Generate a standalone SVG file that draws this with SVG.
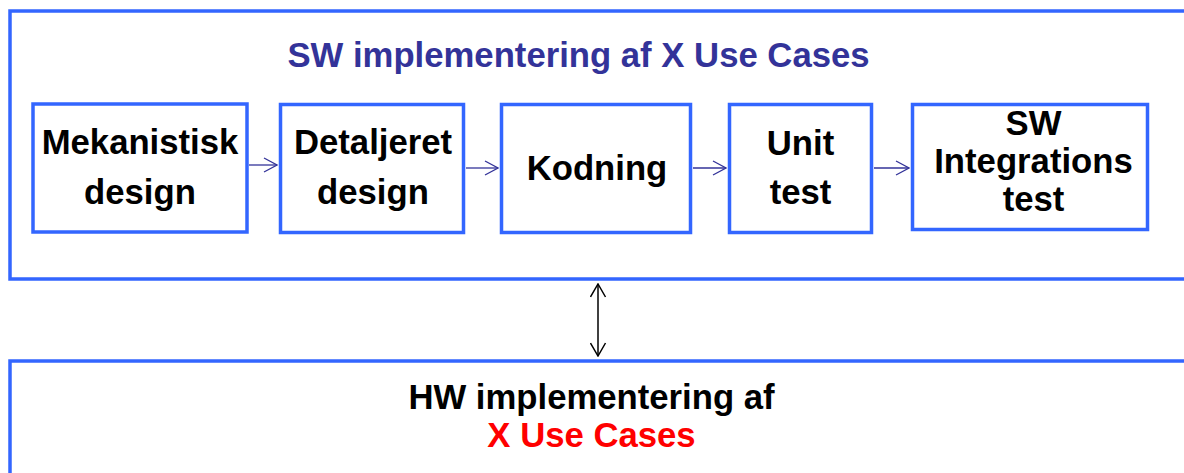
<svg xmlns="http://www.w3.org/2000/svg" width="1184" height="473" viewBox="0 0 1184 473">
<style>
.frame{fill:none;stroke:#3366FF;stroke-width:3.5}
.box{fill:#fff;stroke:#3366FF;stroke-width:3.5}
.t{font-family:"Liberation Sans",Arial,sans-serif;font-weight:bold;font-size:34.7px;text-anchor:middle;fill:#000}
.flow{stroke:#333399;stroke-width:1.3;fill:none}
.dbl{stroke:#000;stroke-width:1.5;fill:none}
</style>
<defs>
<marker id="ah" viewBox="0 0 15 16" refX="14" refY="8" markerWidth="15" markerHeight="16" markerUnits="userSpaceOnUse" orient="auto-start-reverse">
<path d="M1,1 L14,8 L1,15" fill="none" stroke="#333399" stroke-width="1.3"/>
</marker>
<marker id="ahb" viewBox="0 0 15 17" refX="14" refY="8.5" markerWidth="15" markerHeight="17" markerUnits="userSpaceOnUse" orient="auto-start-reverse">
<path d="M1,1 L14,8.5 L1,16" fill="none" stroke="#000" stroke-width="1.5"/>
</marker>
</defs>
<rect width="1184" height="473" fill="#fff"/>
<g id="sw-frame">
<path class="frame" d="M1190,11 H10 V279 H1190"/>
<text class="t" x="578.5" y="67" style="fill:#333399">SW implementering af X Use Cases</text>
</g>
<g id="hw-frame">
<path class="frame" d="M1190,361 H10 V480"/>
<text class="t" x="591.5" y="409">HW implementering af</text>
<text class="t" x="591.5" y="447" style="fill:#FF0000">X Use Cases</text>
</g>
<g id="n1">
<rect class="box" x="33" y="104" width="214" height="128"/>
<text class="t" x="140" y="154">Mekanistisk</text>
<text class="t" x="140" y="204">design</text>
</g>
<g id="n2">
<rect class="box" x="280.5" y="104.5" width="183" height="128"/>
<text class="t" x="373" y="154">Detaljeret</text>
<text class="t" x="373" y="204">design</text>
</g>
<g id="n3">
<rect class="box" x="501.5" y="104.5" width="189" height="128"/>
<text class="t" x="597" y="180">Kodning</text>
</g>
<g id="n4">
<rect class="box" x="729.5" y="104.5" width="142" height="128"/>
<text class="t" x="800.5" y="155">Unit</text>
<text class="t" x="800.5" y="204">test</text>
</g>
<g id="n5">
<rect class="box" x="912.5" y="104.5" width="235" height="125"/>
<text class="t" x="1033.5" y="135">SW</text>
<text class="t" x="1033.5" y="173">Integrations</text>
<text class="t" x="1033.5" y="211">test</text>
</g>
<g id="connectors">
<line class="flow" x1="249" y1="165" x2="277" y2="165" marker-end="url(#ah)"/>
<line class="flow" x1="466" y1="168" x2="498" y2="168" marker-end="url(#ah)"/>
<line class="flow" x1="693" y1="168" x2="726" y2="168" marker-end="url(#ah)"/>
<line class="flow" x1="874" y1="168" x2="909" y2="168" marker-end="url(#ah)"/>
<line class="dbl" x1="598" y1="284" x2="598" y2="356" marker-start="url(#ahb)" marker-end="url(#ahb)"/>
</g>
</svg>
